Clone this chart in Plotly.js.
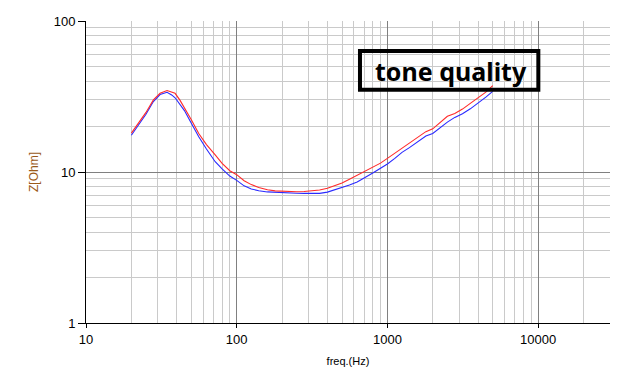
<!DOCTYPE html>
<html>
<head>
<meta charset="utf-8">
<script src="https://cdn.plot.ly/plotly-3.0.1.min.js"></script>
<style>html,body{margin:0;padding:0;background:#fff;}#chart{width:636px;height:383px;}</style>
</head>
<body>
<div id="chart"></div>
<script>
const freq = [20, 22.5, 25, 28, 31, 34.5, 37, 39, 42, 45, 50, 56, 63, 72, 80, 90, 100, 112, 125, 140, 160, 180, 200, 225, 250, 280, 315, 355, 400, 450, 500, 560, 630, 710, 800, 900, 1000, 1120, 1250, 1400, 1600, 1800, 2000, 2250, 2500, 2800, 3150, 3550, 4000, 4500, 5000];
const zBlue = [17.5, 20.8, 24.1, 29.3, 32.6, 33.7, 32.4, 31.0, 28.0, 25.5, 21.0, 17.1, 14.2, 11.7, 10.5, 9.4, 8.8, 8.1, 7.72, 7.52, 7.38, 7.32, 7.29, 7.26, 7.23, 7.22, 7.2, 7.22, 7.36, 7.64, 7.88, 8.2, 8.6, 9.15, 9.85, 10.6, 11.3, 12.3, 13.5, 14.5, 16.0, 17.3, 18.0, 19.8, 21.4, 23.0, 24.3, 26.2, 28.6, 31.3, 34.2];
const zRed = [18.1, 21.3, 24.8, 30.0, 33.2, 34.6, 34.0, 33.2, 29.9, 26.8, 22.2, 18.0, 15.2, 13.0, 11.4, 10.2, 9.6, 8.75, 8.25, 7.9, 7.62, 7.5, 7.45, 7.42, 7.4, 7.42, 7.47, 7.6, 7.8, 8.1, 8.46, 8.95, 9.5, 10.1, 10.75, 11.45, 12.3, 13.3, 14.5, 15.6, 17.0, 18.5, 19.3, 21.2, 23.4, 24.4, 26.1, 28.5, 30.9, 33.8, 37.3];
const xTicks = [10, 100, 1000, 10000];
const xTickText = ['10', '100', '1000', '10000'];
const xMinor = [20,30,40,50,60,70,80,90,200,300,400,500,600,700,800,900,2000,3000,4000,5000,6000,7000,8000,9000,20000,30000];
const yTicks = [1, 10, 100];
const yTickText = ['1', '10', '100'];
const yMinor = [2,3,4,5,6,7,8,9,20,30,40,50,60,70,80,90];

const traces = [
  {x: freq, y: zBlue, type: 'scatter', mode: 'lines', line: {color: '#2a2aff', width: 1.1}, showlegend: false, hoverinfo: 'skip'},
  {x: freq, y: zRed, type: 'scatter', mode: 'lines', line: {color: '#ff2a2a', width: 1.1}, showlegend: false, hoverinfo: 'skip'}
];

const W = 525, H = 302.3, L = 85.5, T = 323.3;
const layout = {
  width: 636, height: 383,
  margin: {l: 85.5, r: 25.5, t: 21, b: 60},
  paper_bgcolor: '#fff', plot_bgcolor: '#fff',
  font: {family: 'Liberation Sans, Arial, sans-serif', size: 13, color: '#000'},
  xaxis: {
    type: 'log', range: [1, Math.log10(30000)],
    tickvals: xTicks, ticktext: xTickText,
    ticks: 'outside', ticklen: 4, tickcolor: '#000',
    showline: true, linecolor: '#000', linewidth: 1, mirror: false,
    showgrid: true, gridcolor: '#808080', gridwidth: 1, zeroline: false,
    minor: {tickvals: xMinor, showgrid: true, gridcolor: '#cacaca', gridwidth: 1, ticks: ''},
    tickfont: {size: 13, color: '#000'},
    title: {text: 'freq.(Hz)', font: {size: 11, color: '#000'}, standoff: 11}
  },
  yaxis: {
    type: 'log', range: [0, 2],
    tickvals: yTicks, ticktext: yTickText,
    ticks: 'outside', ticklen: 7, tickcolor: '#000',
    showline: true, linecolor: '#000', linewidth: 1, mirror: false,
    showgrid: true, gridcolor: '#808080', gridwidth: 1, zeroline: false,
    minor: {tickvals: yMinor, showgrid: true, gridcolor: '#cacaca', gridwidth: 1, ticks: ''},
    tickfont: {size: 13, color: '#000'},
    title: {text: 'Z[Ohm]', font: {size: 12, color: '#9a5a1a'}, standoff: 12}
  },
  shapes: [
    {type: 'rect', xref: 'paper', yref: 'paper', layer: 'above',
     x0: (360 - L) / W, x1: (538.7 - L) / W,
     y0: (T - 89.7) / H, y1: (T - 51) / H,
     line: {color: '#000', width: 4}, fillcolor: 'rgba(0,0,0,0)'}
  ],
  annotations: [
    {xref: 'paper', yref: 'paper', x: (450.7 - L) / W, y: (T - 71.5) / H,
     xanchor: 'center', yanchor: 'middle', showarrow: false,
     text: '<b>tone quality</b>', font: {family: 'Noto Sans, sans-serif', size: 25, color: '#000'}}
  ]
};

Plotly.newPlot('chart', traces, layout, {staticPlot: true, displayModeBar: false});
</script>
</body>
</html>
